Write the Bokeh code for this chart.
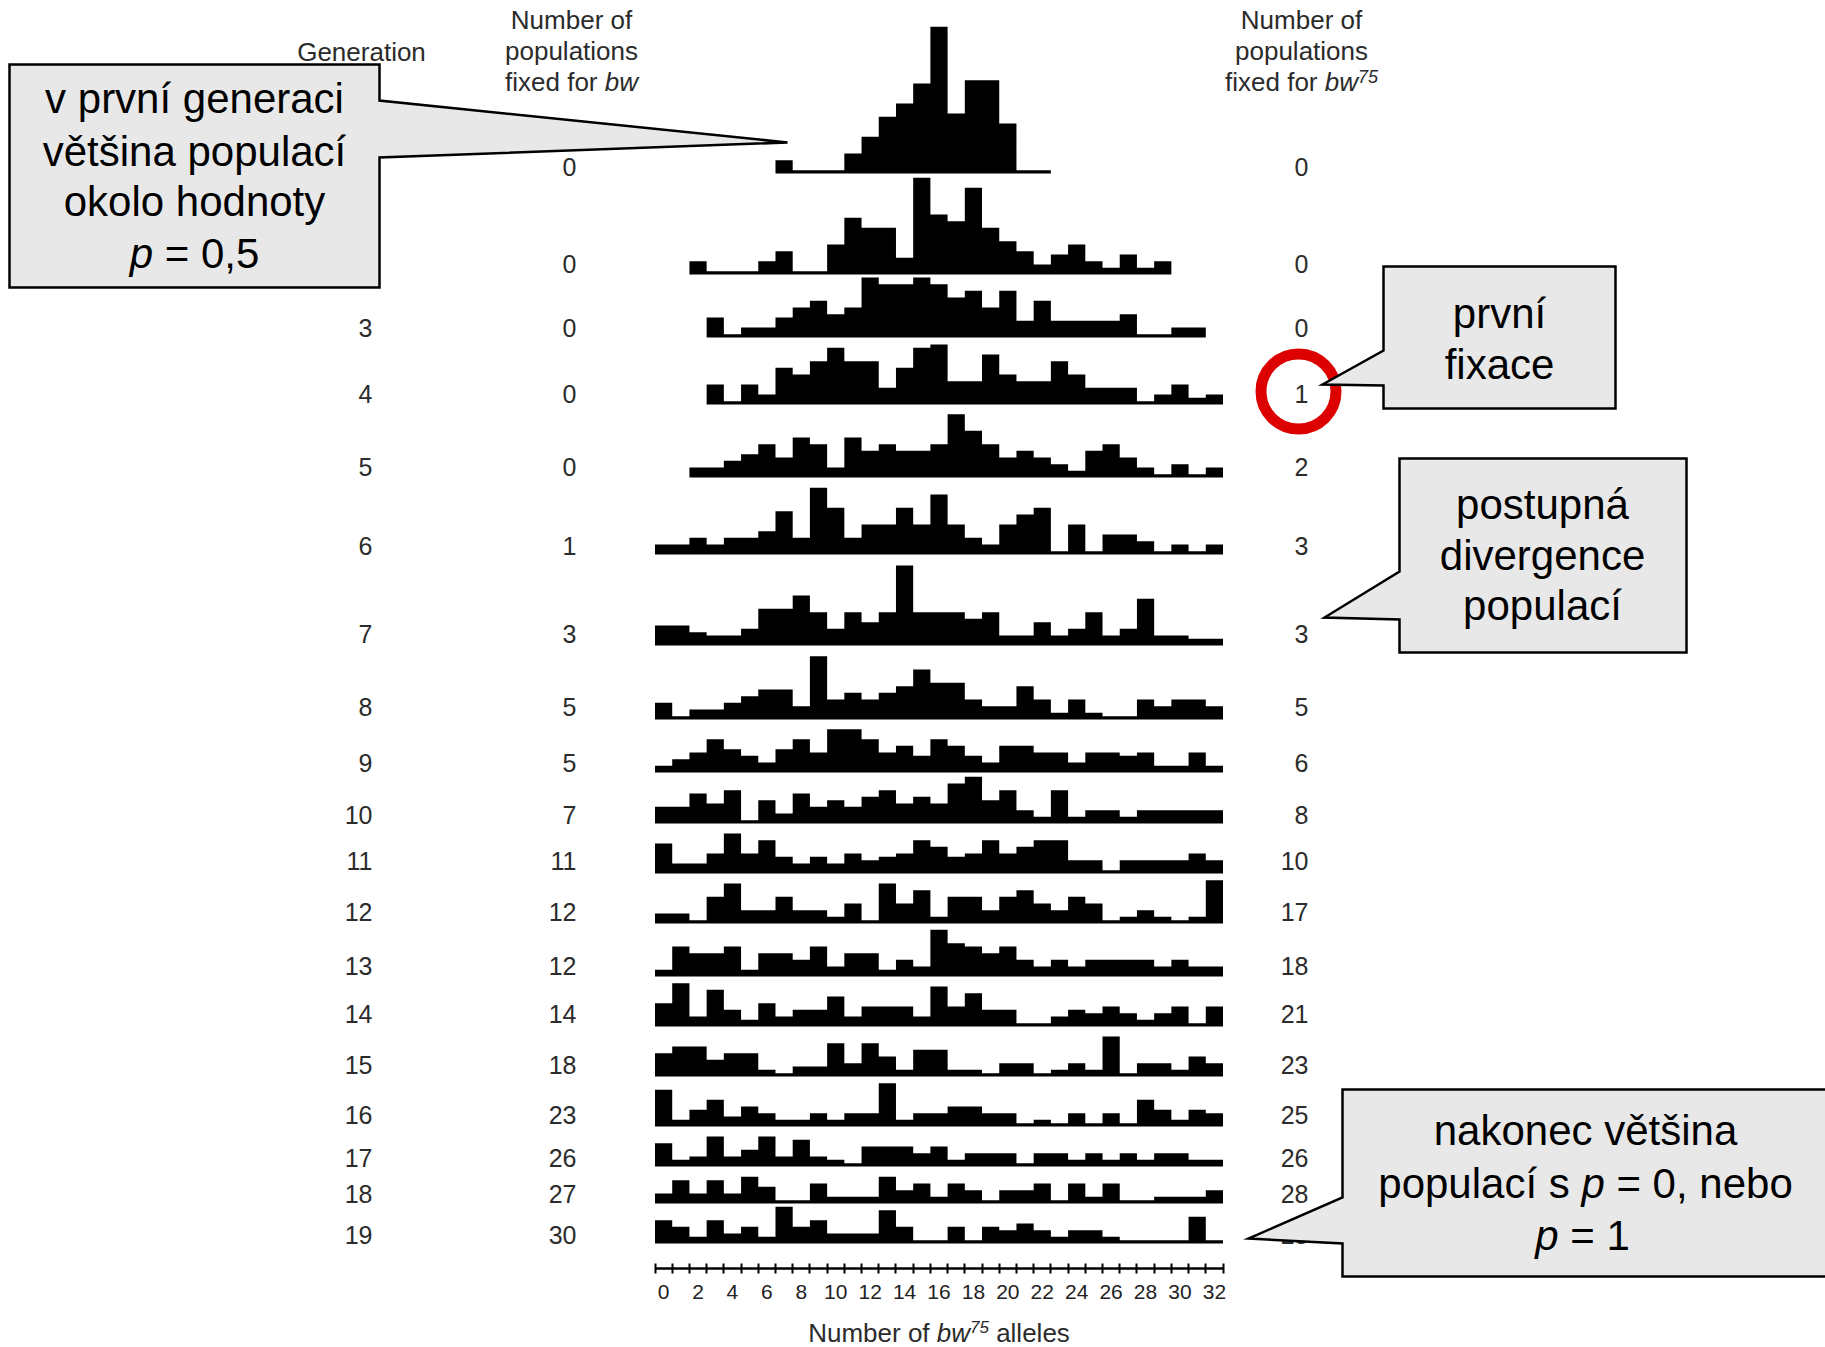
from bokeh.plotting import figure
from bokeh.models import Range1d, LinearAxis, FixedTicker
from bokeh.core.properties import value
from bokeh.embed import file_html
from bokeh.resources import INLINE

# ---------------------------------------------------------------- data
N = None  # bin outside the plotted range of that generation
allele_bins = list(range(33))            # number of bw75 alleles, 0..32
axis_tick_labels = list(range(0, 33, 2))
generations = list(range(1, 20))
fixed_bw = [0, 0, 0, 0, 0, 1, 3, 5, 5, 7, 11, 12, 12, 14, 18, 23, 26, 27, 30]
fixed_bw75 = [0, 0, 0, 1, 2, 3, 3, 5, 6, 8, 10, 17, 18, 21, 23, 25, 26, 28, 28]

# number of populations per allele count
gen01 = [N]*7 + [1.5, 0, 0, 0, 2.5, 5, 8, 10, 13, 21.5, 8.5, 13.5, 13.5, 7, 0, 0] + [N]*10
gen02 = [N]*2 + [1.5, 0, 0, 0, 1.5, 3, 0, 0, 4, 8, 6.5, 6.5, 2, 14, 8.5, 7.5, 12.5, 6.5,
                 4.5, 3, 1, 2.5, 4, 1.5, 0.5, 2.5, 0.5, 1.5] + [N]*3
gen03 = [N]*3 + [2.5, 0, 1, 1, 2.5, 4, 5, 3, 4, 8.5, 7.5, 7.5, 8.5, 7.5, 5.5, 6.5, 4, 6.5,
                 2, 5, 2, 2, 2, 2, 3, 0, 0, 1, 1] + [N]
gen04 = [N]*3 + [2.5, 0, 2.5, 1, 5, 4, 6, 8, 6, 6, 2, 5, 8, 8.5, 3, 3, 7, 4, 3, 3, 6, 4,
                 2, 2, 2, 0, 1, 2.5, 0.5, 1]
gen05 = [N]*2 + [1, 1, 2, 3, 4.5, 2.5, 5.5, 4.5, 1, 5.5, 3.5, 4.5, 3.5, 3.5, 4.5, 9, 6.5,
                 4.5, 2.5, 3.5, 2.5, 1.5, 0.5, 3.5, 4.5, 2.5, 1, 0, 1.5, 0, 1]
gen06 = [1, 1, 2, 1, 2, 2, 3, 6, 2, 9.5, 6.5, 2, 4, 4, 6.5, 4, 8.5, 4, 2, 1, 4, 5.5, 6.5,
         0, 4, 0, 2.5, 2.5, 1.5, 0, 1, 0, 1]
gen07 = [2.5, 2.5, 1.5, 1, 1, 2, 5, 5, 7, 4.5, 2, 4.5, 3, 4.5, 11.5, 4.5, 4.5, 4.5, 3.5,
         4.5, 1, 1, 3, 1, 2, 4.5, 1, 2, 6.5, 1, 1, 0.5, 0.5]
gen08 = [2, 0, 1, 1, 2, 3, 4, 4, 1.5, 9, 2.5, 3.5, 2.5, 3.5, 4.5, 7, 5, 5, 2.5, 1.5, 1.5,
         4.5, 2.5, 0.5, 2.5, 0.5, 0, 0, 2.5, 1.5, 2.5, 2.5, 1.5]
gen09 = [0.5, 1.5, 2.5, 4.5, 3, 2, 1, 3, 4.5, 2.5, 6, 6, 4.5, 2.5, 3.5, 2, 4.5, 3.5, 2, 1,
         3.5, 3.5, 2.5, 2.5, 1, 2.5, 2.5, 2, 2.5, 0.5, 0.5, 2.5, 0.5]
gen10 = [2, 2, 4, 2.5, 4.5, 0, 3, 1, 4, 2, 3, 2, 3.5, 4.5, 2.5, 3.5, 2.5, 5.5, 6.5, 3, 4.5,
         1.5, 0.5, 4.5, 0.5, 1.5, 1.5, 0.5, 1.5, 1.5, 1.5, 1.5, 1.5]
gen11 = [4, 1, 1, 2.5, 5.5, 2.5, 4.5, 2, 1, 2, 1, 2.5, 1.5, 2, 2.5, 4.5, 3.5, 2, 2.5, 4.5,
         2.5, 3.5, 4.5, 4.5, 1.5, 1.5, 0, 1.5, 1.5, 1.5, 1.5, 2.5, 1.5]
gen12 = [1, 1, 0, 3.5, 5.5, 1.5, 1.5, 3.5, 1.5, 1.5, 0.5, 2.5, 0, 5.5, 2.5, 4.5, 0.5, 3.5,
         3.5, 1.5, 3.5, 4.5, 2.5, 1.5, 3.5, 2.5, 0, 0.5, 1.5, 0.5, 0, 0.5, 6]
gen13 = [0.5, 4, 3, 3, 4, 0.5, 3, 3, 2, 4, 1, 3, 3, 0.5, 2, 1, 6.5, 4.5, 4, 3, 4, 2, 1, 2,
         1, 2, 2, 2, 2, 1, 2, 1, 1]
gen14 = [3, 6, 1, 5, 2, 0.5, 3, 1, 2, 2, 4, 1, 2.5, 2.5, 2.5, 1, 5.5, 2.5, 4.5, 2, 2, 0, 0,
         1, 2, 1.5, 2.5, 1.5, 0.5, 1.5, 2.5, 0, 2.5]
gen15 = [3, 4, 4, 2, 3, 3, 0.5, 0, 1, 1, 4.5, 1.5, 4.5, 2.5, 0.5, 3.5, 3.5, 0.5, 0.5, 0,
         1.5, 1.5, 0, 0.5, 1.5, 0.5, 5.5, 0, 1.5, 1.5, 0.5, 2.5, 1.5]
gen16 = [5, 0.5, 2, 3.5, 1, 2.5, 1.5, 0.5, 0.5, 1.5, 0.5, 1.5, 1.5, 6, 0.5, 1.5, 1.5, 2.5,
         2.5, 1.5, 1.5, 0, 0.5, 0, 1.5, 0, 1.5, 0, 3.5, 2, 0.5, 2, 1.5]
gen17 = [3, 0.5, 1, 4, 1, 2, 4, 1, 3.5, 1, 0.5, 0, 2.5, 2.5, 2.5, 1.5, 2.5, 0.5, 1.5, 1.5,
         1.5, 0, 1.5, 1.5, 0.5, 1.5, 0.5, 1.5, 0.5, 1.5, 1.5, 0.5, 0.5]
gen18 = [1, 3, 1, 3, 1, 3.5, 2, 0, 0, 2.5, 0.5, 0.5, 0.5, 3.5, 1.5, 2.5, 0.5, 2.5, 1.5, 0,
         1.5, 1.5, 2.5, 0, 2.5, 0.5, 2.5, 0, 0, 0.5, 0.5, 0.5, 1.5]
gen19 = [3, 2, 0.5, 3, 1, 2, 0.5, 5, 2, 3, 1, 1, 1, 4.5, 2, 0, 0, 2, 0, 2, 1.5, 2.5, 1.5,
         0.5, 1.5, 1.5, 0.5, 0, 0, 0, 0, 3.5, 0]
histograms = [gen01, gen02, gen03, gen04, gen05, gen06, gen07, gen08, gen09, gen10,
              gen11, gen12, gen13, gen14, gen15, gen16, gen17, gen18, gen19]

# ---------------------------------------------------------------- layout (page pixels)
W_PX, H_PX = 1825, 1347
AXIS_Y = 1268                      # page y of the allele axis
AX_L, AX_R = 654.5, 1222.5         # page x of the axis bounds
BIN_PX = (AX_R - AX_L) / 33.0
UNIT = 20.0 / 3.0                  # px per population
LINE = 10.0 / 3.0                  # thickness of the zero line
row_base = [173, 274, 337, 404, 477, 554, 645, 719, 772, 823, 873, 923, 976, 1026,
            1076, 1126, 1166, 1203, 1243]
label_y = [166, 263, 327, 393, 466, 545, 633, 706, 762, 814, 860, 911, 965, 1013,
           1064, 1114, 1157, 1193, 1234]
FONT = "Liberation Sans"
NUM_COLOR = "#2b2b2b"
MID = 0.35                         # baseline -> middle offset (fraction of font size)

x_start = (0 - AX_L) / BIN_PX - 0.5
x_end = (W_PX - AX_L) / BIN_PX - 0.5

p = figure(width=W_PX, height=H_PX, output_backend="svg", toolbar_location=None,
           x_range=Range1d(x_start, x_end), y_range=Range1d(H_PX, 0),
           x_axis_location=None, y_axis_location=None, min_border=0,
           outline_line_color=None, background_fill_color="white",
           border_fill_color="white")
p.extra_x_ranges = {"px": Range1d(0, W_PX)}
p.xgrid.visible = False
p.ygrid.visible = False

# ---------------------------------------------------------------- histograms
xs, ys = [], []
for vals, base in zip(histograms, row_base):
    idx = [i for i, v in enumerate(vals) if v is not None]
    px = [allele_bins[idx[0]] - 0.5]
    py = [base]
    for i in idx:
        top = base - LINE - vals[i] * UNIT
        px += [allele_bins[i] - 0.5, allele_bins[i] + 0.5]
        py += [top, top]
    px.append(allele_bins[idx[-1]] + 0.5)
    py.append(base)
    xs.append(px)
    ys.append(py)
p.patches(xs, ys, fill_color="black", line_color=None)

# x axis with ticks at bin edges, labels at bin centres
axis = LinearAxis(fixed_location=AXIS_Y, bounds=(-0.5, 32.5),
                  ticker=FixedTicker(ticks=axis_tick_labels,
                                     minor_ticks=[b - 0.5 for b in range(34)]))
axis.axis_line_width = 2.5
axis.axis_line_color = "black"
axis.major_tick_in = 0
axis.major_tick_out = 0
axis.minor_tick_in = 5
axis.minor_tick_out = 5
axis.minor_tick_line_width = 2
axis.minor_tick_line_color = "black"
axis.major_label_text_font = FONT
axis.major_label_text_font_size = "21px"
axis.major_label_text_color = "#222222"
axis.major_label_standoff = 11
p.add_layout(axis, "below")

# ---------------------------------------------------------------- column numbers
def col_text(x, texts, align):
    p.text(x=[x] * len(texts), y=label_y, text=texts, x_range_name="px",
           text_font=value(FONT), text_font_size="25px", text_color=NUM_COLOR,
           text_align=align, text_baseline="middle")

col_text(372, [str(g) for g in generations], "right")
col_text(576, [str(v) for v in fixed_bw], "right")
col_text(1308, [str(v) for v in fixed_bw75], "right")

# red circle around the first fixation
p.circle(x=[1298], y=[391], radius=37.5, x_range_name="px", fill_alpha=0,
         line_color="#dd0000", line_width=11)

# ---------------------------------------------------------------- callout shapes
BOX_FILL = "#e8e8e8"
callout_xs = [
    [9, 379, 379, 787, 379, 379, 9],
    [1383, 1615, 1615, 1383, 1383, 1322, 1383],
    [1399, 1686, 1686, 1399, 1399, 1324, 1399],
    [1342, 1840, 1840, 1342, 1342, 1248, 1342],
]
callout_ys = [
    [64, 64, 100, 142, 157, 287, 287],
    [266, 266, 408, 408, 385, 384, 350],
    [458, 458, 652, 652, 619, 617, 571],
    [1089, 1089, 1276, 1276, 1243, 1238, 1197],
]
p.patches(callout_xs, callout_ys, x_range_name="px", fill_color=BOX_FILL,
          line_color="black", line_width=2.5, line_join="miter")

# ---------------------------------------------------------------- mixed-style text helper
CW = {' ': 278, ',': 278, '=': 584, 'a': 556, 'b': 556, 'c': 500, 'd': 556, 'e': 556,
      'f': 278, 'g': 556, 'h': 556, 'i': 222, 'í': 278, 'k': 500, 'l': 222, 'm': 833,
      'n': 556, 'o': 556, 'p': 556, 'r': 333, 's': 500, 't': 278, 'u': 556, 'v': 500,
      'w': 722, 'x': 500, 'y': 500, 'ě': 556, 'š': 500, 'á': 556, 'N': 722, 'G': 778}


def tw(s, size):
    return sum(CW.get(c, 556) for c in s) / 1000.0 * size


def mixed(cx, base, runs, color="black"):
    """runs: (text, size, style, dy). Centred at cx, baseline at base."""
    total = sum(tw(t, s) for t, s, st, dy in runs)
    x = cx - total / 2.0
    for t, s, st, dy in runs:
        lead = len(t) - len(t.lstrip(" "))
        shown = t.strip(" ")
        p.text(x=[x + tw(" " * lead, s)], y=[base - dy - MID * s], text=[shown],
               x_range_name="px", text_font=value(FONT), text_font_size=f"{s}px",
               text_font_style=st, text_color=color, text_align="left",
               text_baseline="middle")
        x += tw(t, s)


HC = "#2b2b2b"
# headers
mixed(361, 61, [("Generation", 26, "normal", 0)], HC)
mixed(571, 29, [("Number of", 26, "normal", 0)], HC)
mixed(571, 60, [("populations", 26, "normal", 0)], HC)
mixed(571, 91, [("fixed for ", 26, "normal", 0), ("bw", 26, "italic", 0)], HC)
mixed(1301, 29, [("Number of", 26, "normal", 0)], HC)
mixed(1301, 60, [("populations", 26, "normal", 0)], HC)
mixed(1301, 91, [("fixed for ", 26, "normal", 0), ("bw", 26, "italic", 0),
                 ("75", 18, "italic", 9)], HC)
# axis title
mixed((AX_L + AX_R) / 2, 1342, [("Number of ", 26, "normal", 0), ("bw", 26, "italic", 0),
                                 ("75", 17, "italic", 10), (" alleles", 26, "normal", 0)], HC)

# callout texts
F = 42
mixed(194, 113, [("v první generaci", F, "normal", 0)])
mixed(194, 166, [("většina populací", F, "normal", 0)])
mixed(194, 216, [("okolo hodnoty", F, "normal", 0)])
mixed(194, 268, [("p", F, "italic", 0), (" = 0,5", F, "normal", 0)])

mixed(1499, 328, [("první", F, "normal", 0)])
mixed(1499, 379, [("fixace", F, "normal", 0)])

mixed(1542, 519, [("postupná", F, "normal", 0)])
mixed(1542, 570, [("divergence", F, "normal", 0)])
mixed(1542, 620, [("populací", F, "normal", 0)])

mixed(1585, 1145, [("nakonec většina", F, "normal", 0)])
mixed(1585, 1198, [("populací s ", F, "normal", 0), ("p", F, "italic", 0),
                   (" = 0, nebo", F, "normal", 0)])
mixed(1582, 1250, [("p", F, "italic", 0), (" = 1", F, "normal", 0)])

open("out.html", "w").write(file_html(p, INLINE))
